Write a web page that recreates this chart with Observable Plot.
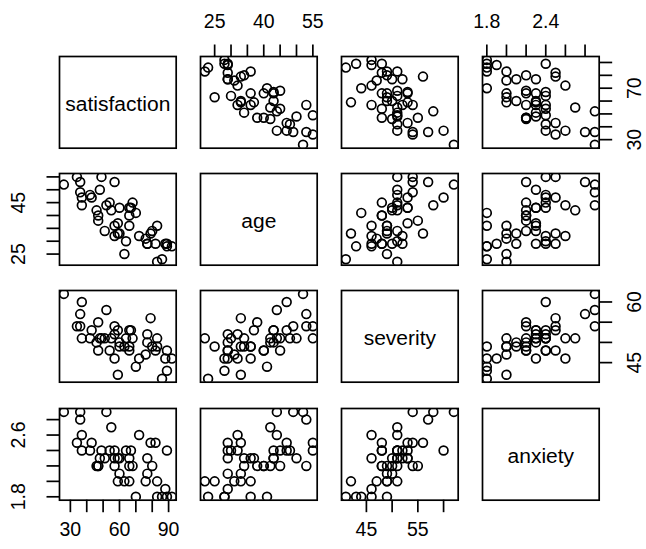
<!DOCTYPE html>
<html>
<head>
<meta charset="utf-8">
<script src="https://cdn.jsdelivr.net/npm/d3@7"></script>
<script src="https://cdn.jsdelivr.net/npm/@observablehq/plot@0.6"></script>
<style>
html, body { margin: 0; padding: 0; background: #fff; }
#chart { position: relative; width: 646px; height: 549px; overflow: hidden; font-family: "Liberation Sans", Arial, sans-serif; }
#chart svg { position: absolute; overflow: visible; }
#chart svg [aria-label*="axis"] line, #chart svg [aria-label*="axis"] path { stroke-width: 1.7px; }
</style>
</head>
<body>
<div id="chart"></div>
<script>
// ---- data ----
const variables = ["satisfaction", "age", "severity", "anxiety"];
const satisfaction = [48,57,66,70,89,36,46,54,26,77,89,67,47,51,57,66,79,88,60,49,77,52,60,86,43,34,63,72,57,55,59,83,76,47,36,80,82,64,37,42,66,83,37,68,59,92];
const age          = [50,36,40,41,28,49,42,45,52,29,29,43,38,34,53,36,33,29,33,55,29,44,43,23,47,55,25,32,32,42,33,36,31,40,53,34,29,30,47,48,43,22,44,45,37,28];
const severity     = [51,46,48,44,43,54,50,48,62,50,48,53,55,51,54,49,56,46,49,51,52,58,50,41,53,54,49,46,52,51,42,49,47,48,57,49,48,51,60,51,53,51,51,51,53,46];
const anxiety      = [2.3,2.3,2.2,1.8,1.8,2.9,2.2,2.4,2.9,2.1,2.4,2.4,2.2,2.3,2.2,2.0,2.5,1.9,2.1,2.4,2.3,2.9,2.3,1.8,2.5,2.5,2.0,2.6,2.4,2.7,2.0,1.8,2.0,2.2,2.8,2.2,2.5,2.4,2.4,2.4,2.3,2.0,2.6,2.2,2.3,1.8];

// tick values and the tick labels shown on each side
const satisfactionTicks = [30,40,50,60,70,80,90];
const ageTicks          = [25,30,35,40,45,50,55];
const severityTicks     = [45,50,55,60];
const anxietyTicks      = [1.8,2.0,2.2,2.4,2.6,2.8];
const satisfactionLabelsBottom = [30,60,90];
const satisfactionLabelsRight  = [30,70];
const ageLabelsTop   = [25,40,55];
const ageLabelsLeft  = [25,45];
const severityLabelsBottom = [45,55];
const severityLabelsRight  = [45,60];
const anxietyLabelsTop  = [1.8,2.4];
const anxietyLabelsLeft = [1.8,2.6];

// ---- build ----
const values = {satisfaction, age, severity, anxiety};
const ticks = {satisfaction: satisfactionTicks, age: ageTicks, severity: severityTicks, anxiety: anxietyTicks};
const labelsX = {satisfaction: satisfactionLabelsBottom, age: ageLabelsTop, severity: severityLabelsBottom, anxiety: anxietyLabelsTop};
const labelsY = {satisfaction: satisfactionLabelsRight, age: ageLabelsLeft, severity: severityLabelsRight, anxiety: anxietyLabelsLeft};
const fmt = {satisfaction: d3.format("d"), age: d3.format("d"), severity: d3.format("d"), anxiety: d3.format(".1f")};
const rows = satisfaction.map((_, k) => ({satisfaction: satisfaction[k], age: age[k], severity: severity[k], anxiety: anxiety[k]}));

function padded(v) { const [a, b] = d3.extent(v); const p = (b - a) * 0.04; return [a - p, b + p]; }

const panelW = 116.7, panelH = 91.7, stepX = 141.1, stepY = 117.2, left0 = 58.7, top0 = 56;
const tickSize = 12.5, tickFont = 19.5, diagFont = 21;
const style = {background: "none", overflow: "visible", maxWidth: "none", fontFamily: "'Liberation Sans', Arial, sans-serif", fontSize: tickFont + "px", color: "black"};
const chart = document.getElementById("chart");

for (let i = 0; i < 4; ++i) {
  for (let j = 0; j < 4; ++j) {
    let svg;
    if (i === j) {
      svg = Plot.plot({
        width: panelW, height: panelH, margin: 0, style,
        marks: [
          Plot.frame({stroke: "black", strokeWidth: 1.7}),
          Plot.text([variables[i]], {text: d => d, frameAnchor: "middle", fontSize: diagFont, dy: 1.5, fill: "black"})
        ]
      });
    } else {
      const xv = variables[j], yv = variables[i];
      const xAxis = (i === 0 && j % 2 === 1) ? "top" : (i === 3 && j % 2 === 0) ? "bottom" : null;
      const yAxis = (j === 0 && i % 2 === 1) ? "left" : (j === 3 && i % 2 === 0) ? "right" : null;
      const marks = [
        Plot.frame({stroke: "black", strokeWidth: 1.7}),
        Plot.dot(rows, {x: xv, y: yv, r: 4.4, stroke: "black", strokeWidth: 1.7, fill: "none", clip: true})
      ];
      if (xAxis) marks.push(Plot.text(labelsX[xv], {x: d => d, text: d => fmt[xv](d), frameAnchor: xAxis, dy: xAxis === "top" ? -35 : 30, textAnchor: "middle", lineAnchor: "middle", fontSize: tickFont, fill: "black"}));
      if (yAxis) marks.push(Plot.text(labelsY[yv], {y: d => d, text: d => fmt[yv](d), frameAnchor: yAxis, dx: yAxis === "left" ? -41 : 35.5, rotate: -90, textAnchor: "middle", lineAnchor: "middle", fontSize: tickFont, fill: "black"}));
      svg = Plot.plot({
        width: panelW, height: panelH, margin: 0, style,
        x: {domain: padded(values[xv]), axis: xAxis, ticks: ticks[xv], tickSize, tickFormat: () => "", label: null},
        y: {domain: padded(values[yv]), axis: yAxis, ticks: ticks[yv], tickSize, tickFormat: () => "", label: null},
        marks
      });
    }
    svg.style.position = "absolute";
    svg.style.left = (left0 + stepX * j) + "px";
    svg.style.top = (top0 + stepY * i) + "px";
    chart.appendChild(svg);
  }
}
</script>
</body>
</html>
